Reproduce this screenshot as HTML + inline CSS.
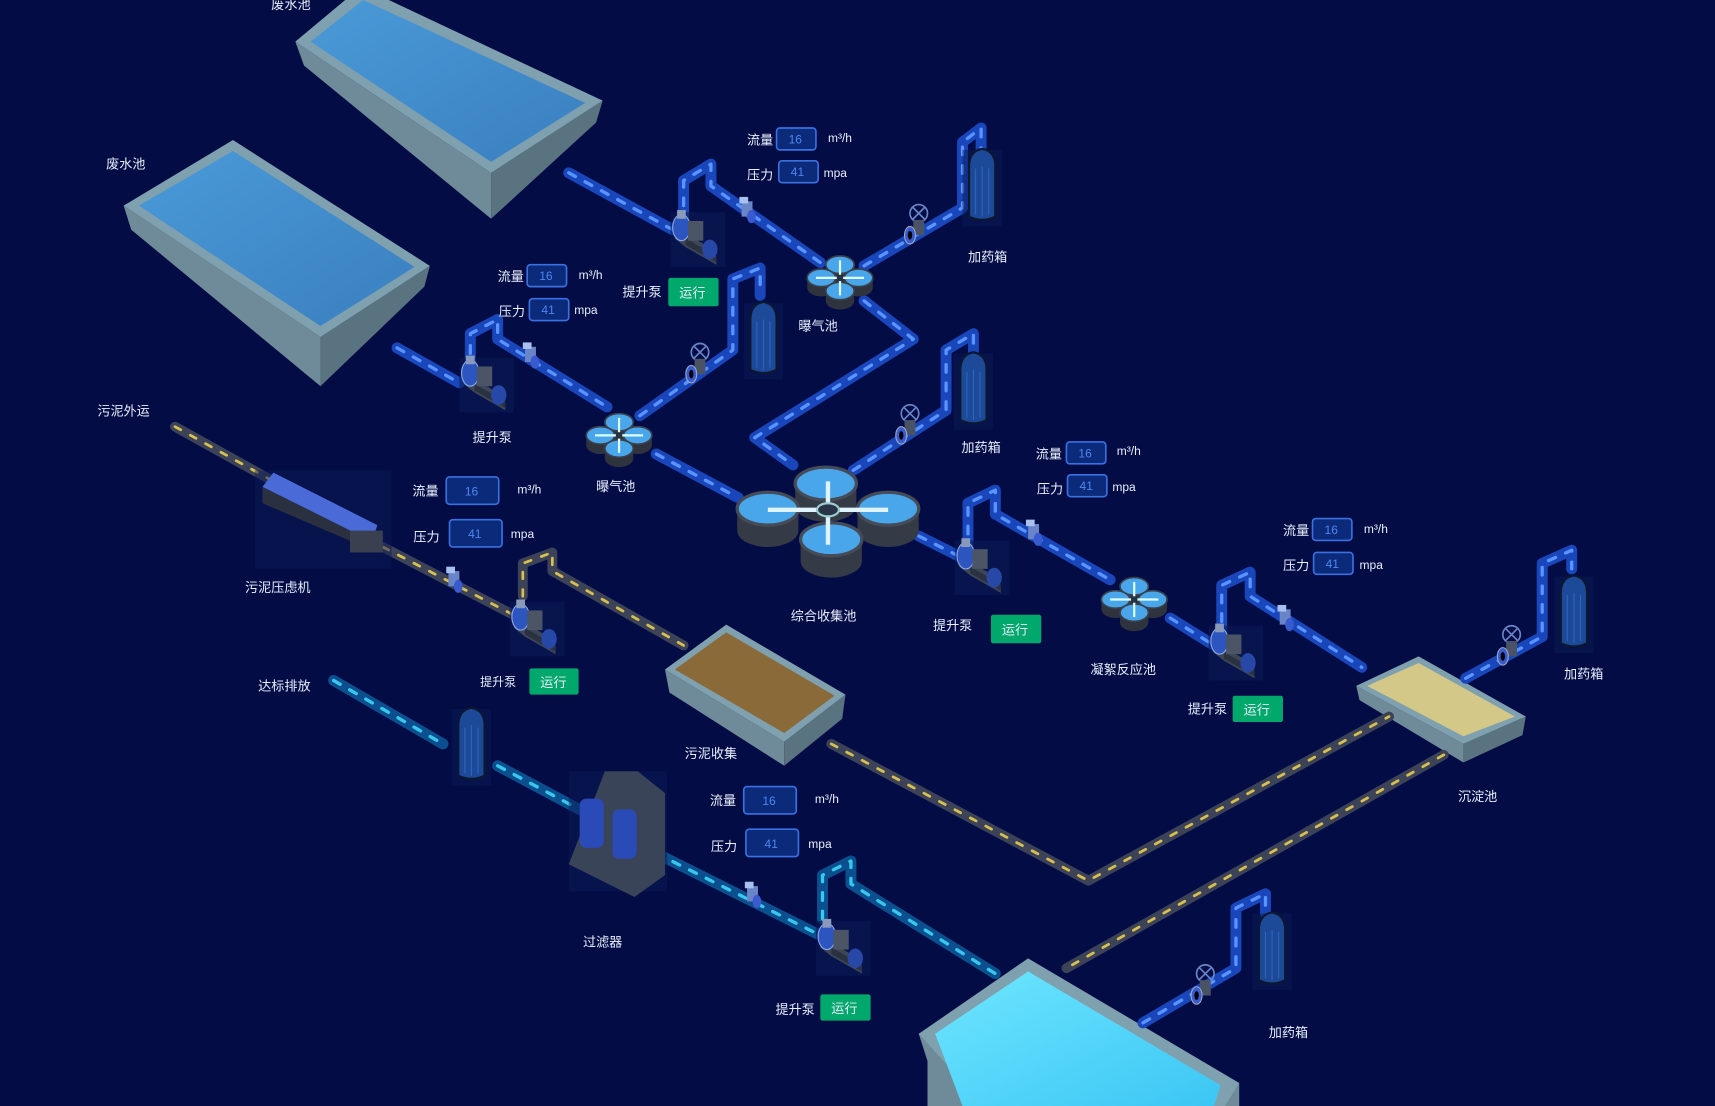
<!DOCTYPE html>
<html><head><meta charset="utf-8"><style>
html,body{margin:0;padding:0;background:#030c44;}
svg{display:block}
text{font-family:"Liberation Sans","Noto Sans CJK SC",sans-serif;fill:#e8eefc;font-size:12px}
.v{fill:#4d86f0;font-size:11px}
</style></head><body>
<svg width="1715" height="1106" viewBox="0 0 1568 1011" preserveAspectRatio="none" xmlns="http://www.w3.org/2000/svg">
<defs>
<linearGradient id="wat" x1="0" y1="0" x2="1" y2="1"><stop offset="0" stop-color="#4a9ad8"/><stop offset="1" stop-color="#3a7fc0"/></linearGradient>
<linearGradient id="cy" x1="0" y1="0" x2="1" y2="1"><stop offset="0" stop-color="#6ee6ff"/><stop offset="1" stop-color="#3cc6f4"/></linearGradient>
<g id="pump">
<rect x="-22" y="-28" width="50" height="50" fill="#0b1a55" opacity="0.6"/>
<polygon points="-18,-14 10,2 20,14 20,20 -8,4 -18,-4" fill="#3d4656"/>
<polygon points="-8,-4 20,12 20,18 -8,2" fill="#2a3140"/>
<ellipse cx="-12" cy="-14" rx="8" ry="12" fill="#2c55c0" stroke="#8aa8e8" stroke-width="1"/>
<rect x="-6" y="-20" width="14" height="18" fill="#4b5566"/>
<ellipse cx="14" cy="6" rx="7" ry="9" fill="#2848a8"/>
<rect x="-16" y="-30" width="8" height="8" fill="#8899bb"/>
</g>
<g id="basin"><path d="M-13,0V9A13,8 0 0 0 13,9V0Z" fill="#2e333e"/><ellipse cx="0" cy="0" rx="13" ry="8" fill="#4aa6ea" stroke="#3a404c" stroke-width="1.5"/></g>
<g id="aer">
<use href="#basin" x="0" y="-16"/><use href="#basin" x="-17" y="-4"/><use href="#basin" x="17" y="-4"/><use href="#basin" x="0" y="8"/>
<path d="M-22,-4H22M0,-20V12" stroke="#dff" stroke-width="2"/>
<circle cx="0" cy="-4" r="3" fill="#234"/>
</g>
<g id="bigb"><path d="M-28,0V20A28,15 0 0 0 28,20V0Z" fill="#343a46"/><ellipse cx="0" cy="0" rx="28" ry="15" fill="#4aa6ea" stroke="#454c58" stroke-width="3"/></g>
<g id="dose">
<rect x="-18" y="-35" width="36" height="70" fill="#0b1a55" opacity="0.5"/>
<path d="M-12,-20 Q-12,-34 0,-36 Q12,-34 12,-20 V26 Q0,32 -12,26Z" fill="#1d4a98" stroke="#0c1830" stroke-width="2"/>
<path d="M-6,-18V24M0,-20V26M6,-18V24" stroke="#2c64c0" stroke-width="1"/>
</g>
<g id="valve">
<circle cx="0" cy="-10" r="8" fill="none" stroke="#6a86c8" stroke-width="1.5"/>
<path d="M-6,-16L6,-4M6,-16L-6,-4" stroke="#6a86c8" stroke-width="1.5"/>
<rect x="-5" y="-4" width="10" height="14" fill="#4a5266"/>
<ellipse cx="-8" cy="10" rx="5" ry="8" fill="#3a5ad0" stroke="#9ab" stroke-width="1"/>
<ellipse cx="-8" cy="10" rx="2" ry="4" fill="#000"/>
</g>
<g id="sv"><rect x="-5" y="-8" width="10" height="14" fill="#6a84c8"/><ellipse cx="4" cy="6" rx="4" ry="6" fill="#3a5ad0"/><rect x="-7" y="-12" width="8" height="6" fill="#a8c0f0"/></g>
</defs>
<rect width="1568" height="1011" fill="#030c44"/>

<!-- tanks -->
<polygon points="270,38 278,60 449,200 449,158" fill="#6f8a98"/>
<polygon points="449,158 551,92 545,112 449,200" fill="#5a7380"/>
<polygon points="270,38 330,-12 551,92 449,158" fill="#7fa0ae"/>
<polygon points="284,38 332,0 535,94 449,148" fill="url(#wat)"/>

<polygon points="113,188 120,210 293,353 293,308" fill="#6f8a98"/>
<polygon points="293,308 393,243 388,262 293,353" fill="#5a7380"/>
<polygon points="113,188 213,128 393,243 293,308" fill="#7fa0ae"/>
<polygon points="127,188 213,138 379,244 293,298" fill="url(#wat)"/>

<polygon points="608,612 612,633 717,700 717,678" fill="#6f8a98"/>
<polygon points="717,678 773,635 770,657 717,700" fill="#5a7380"/>
<polygon points="608,612 664,571 773,635 717,678" fill="#7fa0ae"/>
<polygon points="617,612 664,578 763,636 717,670" fill="#8a6a38"/>

<polygon points="1240,627 1243,640 1338,697 1338,680" fill="#6f8a98"/>
<polygon points="1338,680 1395,655 1392,672 1338,697" fill="#5a7380"/>
<polygon points="1240,627 1297,600 1395,655 1338,680" fill="#7fa0ae"/>
<polygon points="1250,627 1297,606 1385,655 1338,673" fill="#d4c888"/>

<polygon points="840,945 848,970 848,1011 1133,1011 1133,990" fill="#6f8a98"/>
<polygon points="840,945 940,876 1133,990 1120,1011 900,1011" fill="#7fa0ae"/>
<polygon points="855,945 940,888 1116,992 1110,1011 880,1011" fill="url(#cy)"/>

<!-- gray pipes -->
<g fill="none" stroke-linecap="round" stroke-linejoin="round">
<path d="M160,390L250,440M350,500L475,565M478,545V515L505,505V522L625,590M760,680L995,805L1270,655M1320,690L975,885" stroke="#3c4257" stroke-width="9"/>
<path d="M160,390L250,440M350,500L475,565M478,545V515L505,505V522L625,590M760,680L995,805L1270,655M1320,690L975,885" stroke="#d8c050" stroke-width="2.5" stroke-dasharray="6 10"/>
<!-- cyan pipe -->
<path d="M305,622L405,680M455,700L530,740M600,780L750,855M752,840V800L778,787V808L910,890" stroke="#0b4f8e" stroke-width="10"/>
<path d="M305,622L405,680M455,700L530,740M600,780L750,855M752,840V800L778,787V808L910,890" stroke="#38c8ee" stroke-width="3" stroke-dasharray="7 10"/>
<!-- blue pipes -->
<g id="bp">
<path d="M520,158L615,210M625,205V165L650,150V170L750,240M790,243L880,190V130L897,117V140M790,275L835,310L690,400L725,425M363,318L420,350M430,340V305L455,292V310L555,372M585,380L670,320V255L695,245V270M600,415L675,455M780,430L865,375V320L890,305V325M840,490L880,510M885,505V460L910,448V470L1015,530M1070,565L1110,590M1117,585V535L1143,523V545L1245,610M1340,620L1410,582V515L1437,503V520M1045,935L1130,885V830L1157,817V835"/>
</g>
<use href="#bp" stroke="#1a46bb" stroke-width="10"/>
<use href="#bp" stroke="#5a95ff" stroke-width="3" stroke-dasharray="7 10"/>
</g>

<!-- equipment -->
<use href="#pump" x="635" y="222"/><use href="#pump" x="442" y="355"/><use href="#pump" x="895" y="522"/>
<use href="#pump" x="1127" y="600"/><use href="#pump" x="488" y="578"/><use href="#pump" x="768" y="870"/>
<use href="#aer" x="768" y="258"/><use href="#aer" x="566" y="402"/><use href="#aer" x="1037" y="552"/>
<!-- combined tank -->
<g>
<use href="#bigb" x="755" y="442"/><use href="#bigb" x="702" y="465"/><use href="#bigb" x="812" y="465"/><use href="#bigb" x="760" y="493"/>
<path d="M702,466H812M757,440V498" stroke="#e0f4ff" stroke-width="4"/>
<ellipse cx="757" cy="466" rx="10" ry="6" fill="#2a3448" stroke="#9cc" stroke-width="2"/>
</g>
<use href="#dose" x="898" y="172"/><use href="#dose" x="698" y="312"/><use href="#dose" x="890" y="358"/>
<use href="#dose" x="1439" y="562"/><use href="#dose" x="1163" y="870"/><use href="#dose" x="431" y="683"/>
<use href="#valve" x="840" y="205"/><use href="#valve" x="640" y="332"/><use href="#valve" x="832" y="388"/>
<use href="#valve" x="1382" y="590"/><use href="#valve" x="1102" y="900"/>
<use href="#sv" x="683" y="192"/><use href="#sv" x="485" y="325"/><use href="#sv" x="945" y="487"/>
<use href="#sv" x="1175" y="565"/><use href="#sv" x="415" y="530"/><use href="#sv" x="688" y="818"/>
<!-- press -->
<g><rect x="233" y="430" width="125" height="90" fill="#0b1a55" opacity="0.5"/>
<polygon points="240,445 250,432 345,480 340,495" fill="#4a6ad8"/>
<polygon points="240,445 340,495 345,505 240,460" fill="#2a3040"/>
<rect x="320" y="485" width="30" height="20" fill="#3a4050"/></g>
<!-- filter -->
<g><rect x="520" y="705" width="90" height="110" fill="#0b1a55" opacity="0.5"/>
<polygon points="553,705 583,705 608,725 608,800 580,820 520,790" fill="#3a4458"/>
<rect x="530" y="730" width="22" height="45" rx="6" fill="#2a4ab8"/><rect x="560" y="740" width="22" height="45" rx="6" fill="#2a4ab8"/></g>

<!-- labels -->
<text x="248" y="8">废水池</text><text x="97" y="154">废水池</text><text x="89" y="380">污泥外运</text>
<text x="224" y="541">污泥压虑机</text><text x="236" y="631">达标排放</text><text x="432" y="404">提升泵</text>
<text x="545" y="449">曝气池</text><text x="730" y="302">曝气池</text><text x="885" y="239">加药箱</text>
<text x="879" y="413">加药箱</text><text x="723" y="567">综合收集池</text><text x="853" y="576">提升泵</text>
<text x="997" y="616">凝絮反应池</text><text x="1086" y="652">提升泵</text><text x="1430" y="620">加药箱</text>
<text x="1333" y="732">沉淀池</text><text x="626" y="693">污泥收集</text><text x="533" y="865">过滤器</text>
<text x="709" y="927">提升泵</text><text x="1160" y="948">加药箱</text><text x="569" y="271">提升泵</text>
<text x="439" y="627" style="font-size:11px">提升泵</text>
<g fill="#00a86b">
<rect x="611" y="254" width="46" height="26" rx="2"/><rect x="906" y="562" width="46" height="26" rx="2"/>
<rect x="1127" y="636" width="46" height="24" rx="2"/><rect x="750" y="909" width="46" height="24" rx="2"/>
<rect x="484" y="611" width="45" height="24" rx="2"/></g>
<text x="621" y="272">运行</text><text x="916" y="580">运行</text><text x="1137" y="653">运行</text>
<text x="760" y="926">运行</text><text x="494" y="628">运行</text>

<g fill="#0c2a7a" stroke="#3a70e0" stroke-width="1.5">
<rect x="710" y="117" width="36" height="20" rx="3"/><rect x="712" y="147" width="36" height="20" rx="3"/>
<rect x="482" y="242" width="36" height="20" rx="3"/><rect x="484" y="273" width="36" height="20" rx="3"/>
<rect x="408" y="436" width="48" height="25" rx="3"/><rect x="411" y="475" width="48" height="25" rx="3"/>
<rect x="975" y="404" width="36" height="20" rx="3"/><rect x="976" y="434" width="36" height="20" rx="3"/>
<rect x="1200" y="474" width="36" height="20" rx="3"/><rect x="1201" y="505" width="36" height="20" rx="3"/>
<rect x="680" y="719" width="48" height="25" rx="3"/><rect x="682" y="758" width="48" height="25" rx="3"/></g>
<text class="v" x="721" y="131">16</text><text class="v" x="723" y="161">41</text>
<text class="v" x="493" y="256">16</text><text class="v" x="495" y="287">41</text>
<text class="v" x="425" y="453">16</text><text class="v" x="428" y="492">41</text>
<text class="v" x="986" y="418">16</text><text class="v" x="987" y="448">41</text>
<text class="v" x="1211" y="488">16</text><text class="v" x="1212" y="519">41</text>
<text class="v" x="697" y="736">16</text><text class="v" x="699" y="775">41</text>
<text x="683" y="132">流量</text><text x="757" y="130" style="font-size:11px">m³/h</text><text x="683" y="164">压力</text><text x="753" y="162" style="font-size:11px">mpa</text>
<text x="455" y="257">流量</text><text x="529" y="255" style="font-size:11px">m³/h</text><text x="456" y="289">压力</text><text x="525" y="287" style="font-size:11px">mpa</text>
<text x="377" y="453">流量</text><text x="473" y="451" style="font-size:11px">m³/h</text><text x="378" y="495">压力</text><text x="467" y="492" style="font-size:11px">mpa</text>
<text x="947" y="419">流量</text><text x="1021" y="416" style="font-size:11px">m³/h</text><text x="948" y="451">压力</text><text x="1017" y="449" style="font-size:11px">mpa</text>
<text x="1173" y="489">流量</text><text x="1247" y="487" style="font-size:11px">m³/h</text><text x="1173" y="521">压力</text><text x="1243" y="520" style="font-size:11px">mpa</text>
<text x="649" y="736">流量</text><text x="745" y="734" style="font-size:11px">m³/h</text><text x="650" y="778">压力</text><text x="739" y="775" style="font-size:11px">mpa</text>
</svg>
</body></html>
